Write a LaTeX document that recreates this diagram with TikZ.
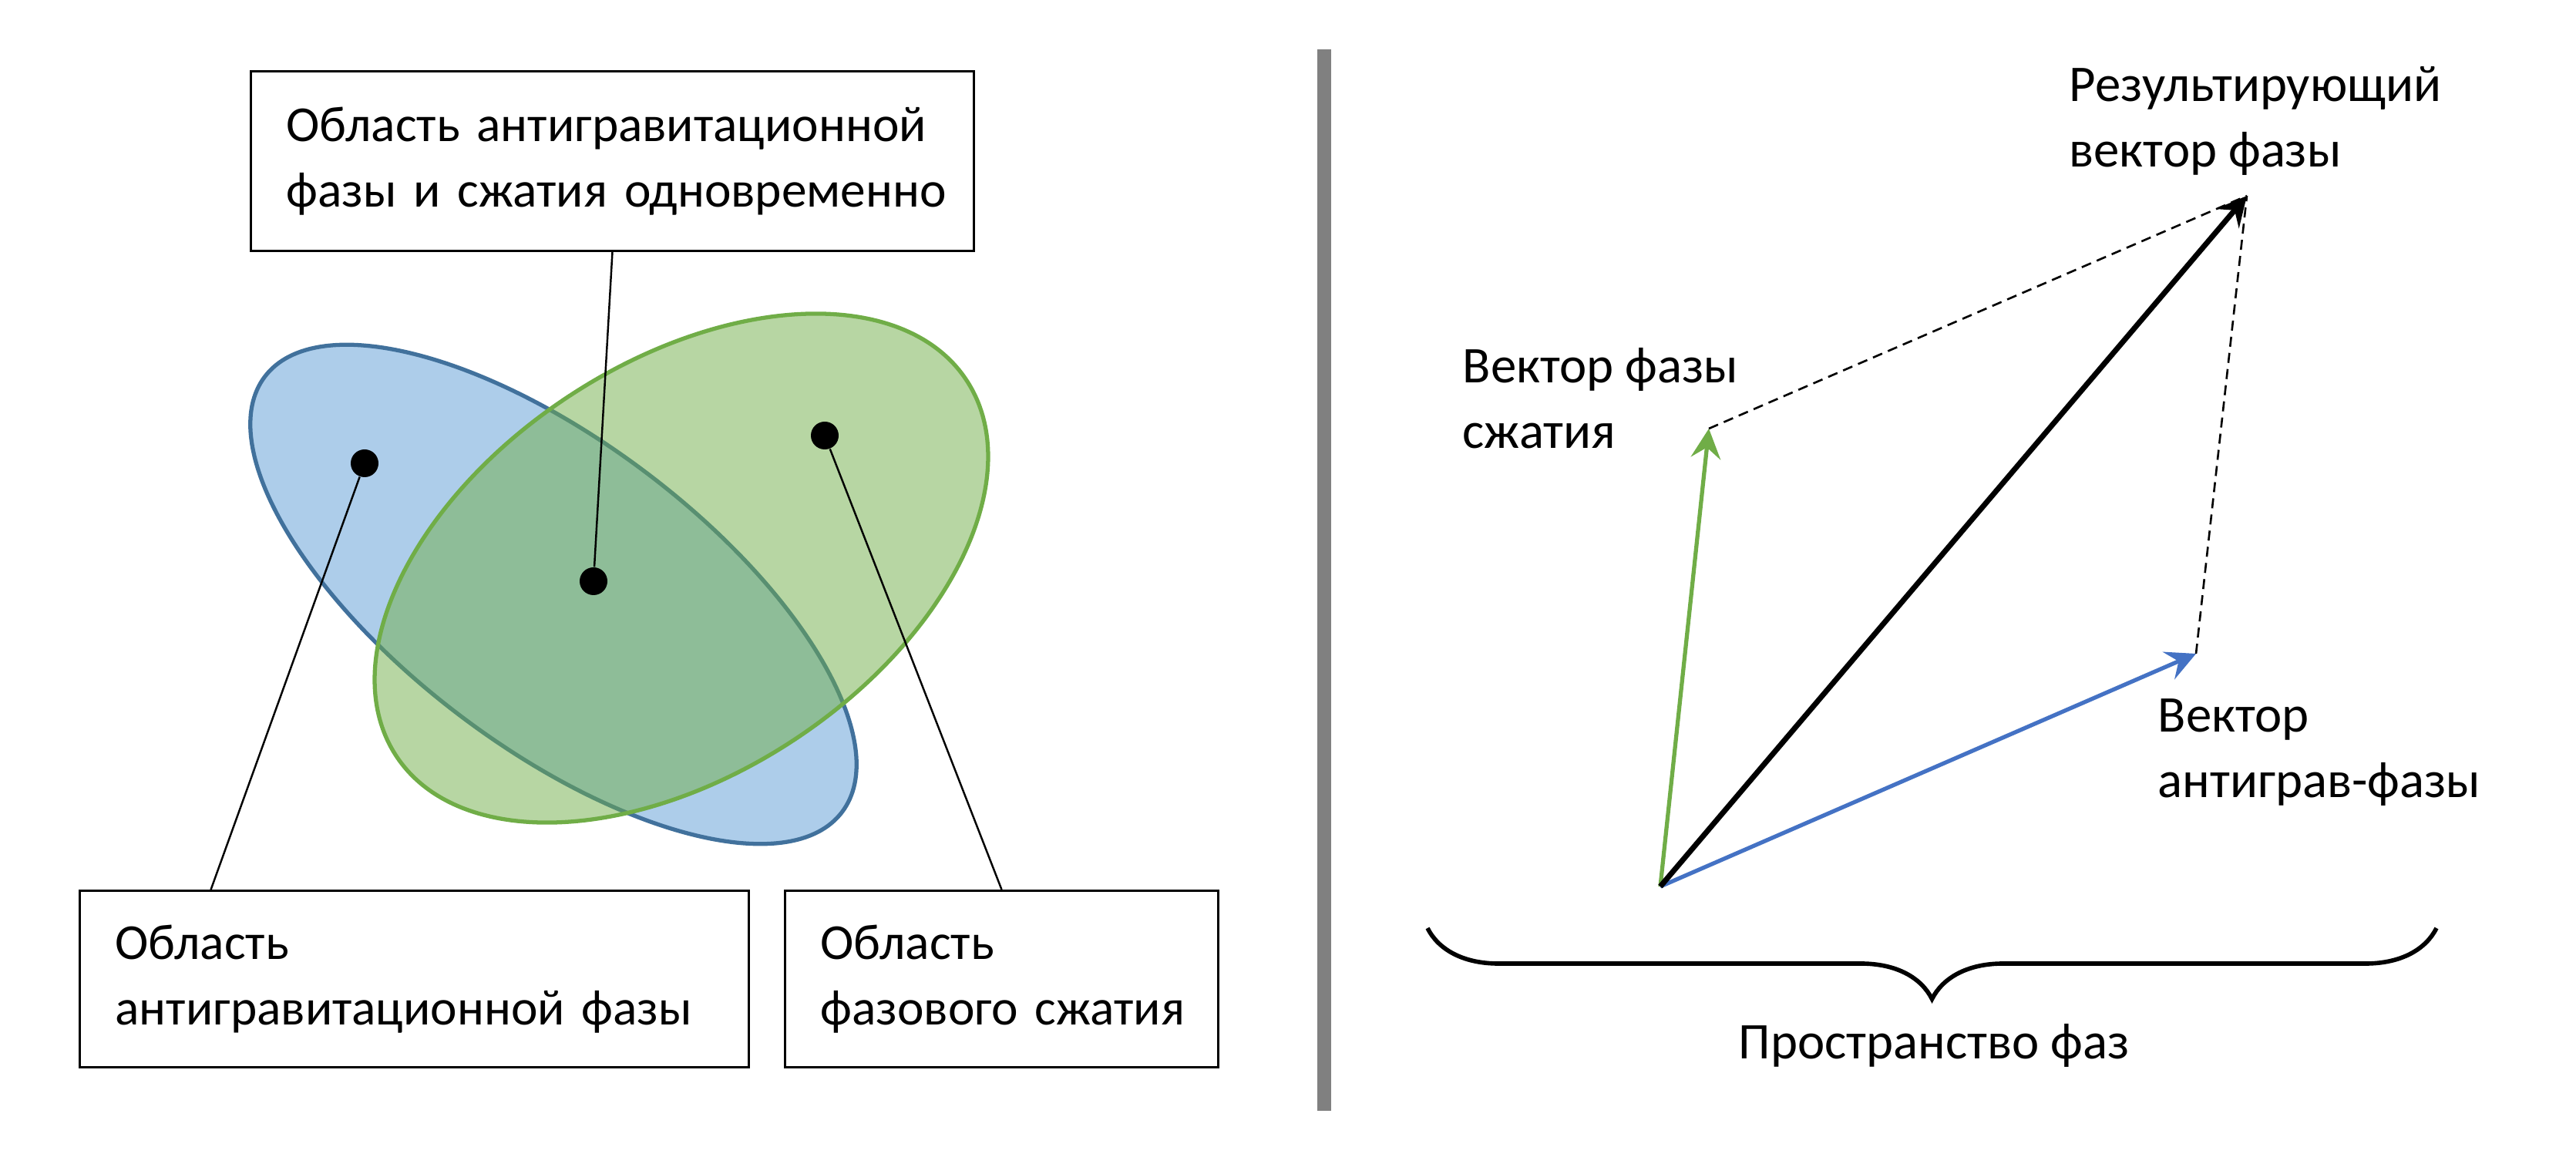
\documentclass[tikz,border=0pt]{standalone}
\usepackage{fontspec}
\setmainfont{Carlito}
\usetikzlibrary{arrows.meta,calc,decorations.pathreplacing}
\definecolor{AntiBlue}{HTML}{5B9BD5}
\definecolor{AntiLine}{HTML}{41719C}
\definecolor{SqueezeGreen}{HTML}{70AD47}
\definecolor{VecBlue}{HTML}{4472C4}
\definecolor{SepGray}{HTML}{808080}

\begin{document}
\begin{tikzpicture}[
  every node/.style={font=\fontsize{19}{24.2}\selectfont,align=left},
  box/.style={draw,line width=0.85pt,anchor=north west,inner xsep=4.6mm,inner ysep=0pt,text width=#1,minimum height=22.9mm,
    font=\fontsize{18.6}{24.2}\selectfont},
  spot/.style={circle,fill=black,inner sep=0pt,minimum size=3.6mm},
  lead/.style={line width=0.7pt},
  vec/.style={-{Stealth[length=11pt,width=11pt,inset=4pt]},line width=1.5pt},
  aux/.style={dash pattern=on 3.7pt off 2.3pt,line width=0.75pt},
  lbl/.style={anchor=base west,inner sep=0pt}
]
\useasboundingbox (0,0) rectangle (33.42,15.09);

% left half: regions
\draw[fill=AntiBlue,fill opacity=0.5,draw=AntiLine,line width=1.5pt,shift={(7.18,7.38)},rotate=-37]
  (0,0) ellipse [x radius=4.69,y radius=1.985];
\draw[fill=SqueezeGreen,fill opacity=0.5,draw=SqueezeGreen,line width=1.5pt,shift={(8.84,7.72)},rotate=33.4]
  (0,0) ellipse [x radius=4.43,y radius=2.665];

\node[box=8.46cm,minimum height=23.3mm] (topbox) at (3.24,14.18)
  {\mbox{Область антигравитационной}\\\mbox{фазы и сжатия одновременно}};
\node[box=7.76cm] (lbox) at (1.02,3.55) {Область\\\mbox{антигравитационной фазы}};
\node[box=4.70cm] (rbox) at (10.17,3.55) {Область\\\mbox{фазового сжатия}};

\node[spot] (antidot) at (4.73,9.08) {};
\node[spot] (squeezedot) at (10.70,9.44) {};
\node[spot] (bothdot) at (7.70,7.55) {};
\draw[lead] (bothdot) -- (topbox.south);
\draw[lead] (antidot) -- ($(lbox.north west)!0.197!(lbox.north east)$);
\draw[lead] (squeezedot) -- (rbox.north);

% separator
\draw[SepGray,line width=1.8mm] (17.18,14.45) -- (17.18,0.68);

% right half: phase vectors
\coordinate (O) at (21.54,3.59);
\coordinate (G) at (22.17,9.53);
\coordinate (B) at (28.49,6.61);
\coordinate (R) at (29.15,12.55);
\draw[vec,SqueezeGreen] (O) -- (G);
\draw[vec,VecBlue] (O) -- (B);
\draw[vec,black,line width=2pt] (O) -- (R);
\draw[aux] (G) -- (R);
\draw[aux] (B) -- (R);

\node[lbl] (lblG) at (18.97,9.27) {Вектор фазы\\сжатия};
\node[lbl] (lblR) at (26.84,12.92) {Результирующий\\вектор фазы};
\node[lbl] (lblB) at (27.99,4.74) {Вектор\\антиграв-фазы};

\coordinate (braceL) at (18.52,3.05);
\coordinate (braceR) at (31.61,3.05);
\draw[decorate,decoration={brace,mirror,amplitude=9.2mm},line width=1.6pt] (braceL) -- (braceR);
\node[anchor=base,inner sep=0pt] (space) at (25.09,1.36) {Пространство фаз};
\end{tikzpicture}
\end{document}
